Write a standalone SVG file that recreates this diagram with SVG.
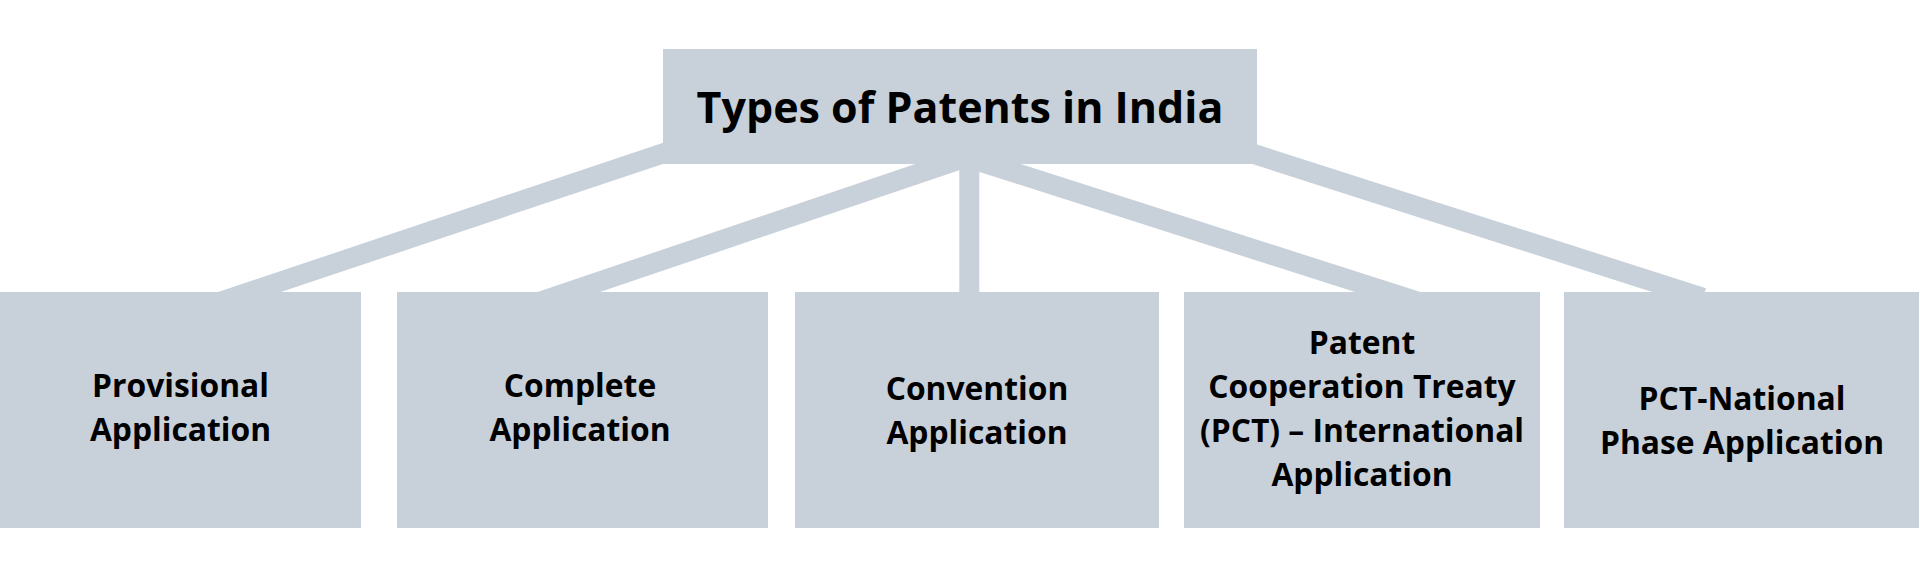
<svg xmlns="http://www.w3.org/2000/svg" width="1920" height="578" viewBox="0 0 1920 578">
  <style>
    .box { fill: #C8D0DA; }
    .conn { stroke: #C8D0DA; stroke-width: 20; fill: none; stroke-linecap: butt; }
    .t { font-family: "Open Sans", "Noto Sans", "Liberation Sans", sans-serif; font-weight: 700; fill: #000; text-anchor: middle; }
    .title { font-size: 43px; }
    .lbl { font-size: 31.8px; }
  </style>
  <rect width="1920" height="578" fill="#FFFFFF"/>
  <g id="connectors">
    <line class="conn" x1="700" y1="140.9" x2="196" y2="310"/>
    <line class="conn" x1="970" y1="156" x2="515.6" y2="310"/>
    <line class="conn" x1="969.3" y1="150" x2="969.3" y2="310"/>
    <line class="conn" x1="970" y1="158.4" x2="1444" y2="310"/>
    <line class="conn" x1="1220" y1="143.2" x2="1703" y2="297.8"/>
  </g>
  <g id="root">
    <rect class="box" x="663" y="49" width="594" height="115"/>
    <text class="t title" x="960" y="123">Types of Patents in India</text>
  </g>
  <g id="provisional">
    <rect class="box" x="0" y="292" width="361" height="236"/>
    <text class="t lbl" x="180.5" y="397">Provisional</text>
    <text class="t lbl" x="180.5" y="441">Application</text>
  </g>
  <g id="complete">
    <rect class="box" x="397" y="292" width="371" height="236"/>
    <text class="t lbl" x="580" y="397">Complete</text>
    <text class="t lbl" x="580" y="441">Application</text>
  </g>
  <g id="convention">
    <rect class="box" x="795" y="292" width="364" height="236"/>
    <text class="t lbl" x="977" y="400">Convention</text>
    <text class="t lbl" x="977" y="444">Application</text>
  </g>
  <g id="pct">
    <rect class="box" x="1184" y="292" width="356" height="236"/>
    <text class="t lbl" x="1362" y="354">Patent</text>
    <text class="t lbl" x="1362" y="398">Cooperation Treaty</text>
    <text class="t lbl" x="1362" y="442">(PCT) – International</text>
    <text class="t lbl" x="1362" y="486">Application</text>
  </g>
  <g id="pct-national">
    <rect class="box" x="1564" y="292" width="355" height="236"/>
    <text class="t lbl" x="1742" y="410">PCT-National</text>
    <text class="t lbl" x="1742" y="454">Phase Application</text>
  </g>
</svg>
